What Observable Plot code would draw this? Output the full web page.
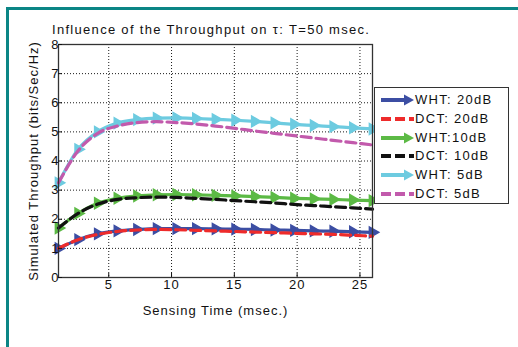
<!DOCTYPE html>
<html><head><meta charset="utf-8">
<script src="https://cdn.jsdelivr.net/npm/d3@7"></script>
<script src="https://cdn.jsdelivr.net/npm/@observablehq/plot@0.6"></script>
<style>
body{margin:0;background:#fff;font-family:"Liberation Sans",Arial,sans-serif;}
#wrap{position:relative;width:518px;height:347px;overflow:hidden;}
#bt{position:absolute;left:6px;top:7px;width:512px;height:2.5px;background:#0b8585;}
#bl{position:absolute;left:6px;top:7px;width:2.5px;height:340px;background:#0b8585;}
#title{position:absolute;left:52px;top:22px;font-size:13px;letter-spacing:1.3px;color:#111;white-space:nowrap;}
#legend{position:absolute;left:374px;top:87px;width:135px;height:117px;border:1px solid #333;background:#fff;box-sizing:border-box;}
.row{position:absolute;left:5px;height:18px;font-size:13px;letter-spacing:1.3px;color:#111;white-space:nowrap;}
.row svg{position:absolute;left:0;top:0;}
.row span{position:absolute;left:35px;top:1px;}
svg text{letter-spacing:1px;}
</style></head>
<body><div id="wrap"><div id="bt"></div><div id="bl"></div></div>
<script>
const xs = [1, 2.5625, 4.125, 5.6875, 7.25, 8.8125, 10.375, 11.9375, 13.5, 15.0625, 16.625, 18.1875, 19.75, 21.3125, 22.875, 24.4375, 26];
const wht20 = [1.0, 1.3, 1.5, 1.6, 1.65, 1.68, 1.68, 1.68, 1.67, 1.66, 1.65, 1.63, 1.62, 1.6, 1.59, 1.57, 1.55];
const dct20 = [1.0, 1.3, 1.48, 1.58, 1.63, 1.65, 1.64, 1.62, 1.6, 1.58, 1.56, 1.54, 1.52, 1.5, 1.48, 1.45, 1.42];
const wht10 = [1.7, 2.2, 2.55, 2.72, 2.8, 2.84, 2.85, 2.84, 2.82, 2.8, 2.78, 2.75, 2.72, 2.7, 2.68, 2.66, 2.64];
const dct10 = [1.7, 2.2, 2.52, 2.68, 2.74, 2.76, 2.75, 2.72, 2.68, 2.64, 2.6, 2.56, 2.51, 2.47, 2.43, 2.39, 2.35];
const wht5 = [3.25, 4.4, 5.0, 5.3, 5.42, 5.47, 5.48, 5.46, 5.43, 5.4, 5.36, 5.31, 5.26, 5.22, 5.18, 5.14, 5.1];
const dct5 = [3.25, 4.35, 4.95, 5.2, 5.32, 5.35, 5.32, 5.27, 5.2, 5.12, 5.03, 4.95, 4.87, 4.79, 4.71, 4.63, 4.55];
const xTicks = [5, 10, 15, 20, 25];
const yTicks = [0, 1, 2, 3, 4, 5, 6, 7, 8];

const series = [
  {name: "WHT: 20dB", vals: wht20, color: "#3c4ea3", dash: null},
  {name: "DCT: 20dB", vals: dct20, color: "#ee2b2b", dash: "10,5"},
  {name: "WHT:10dB", vals: wht10, color: "#5cba45", dash: null},
  {name: "DCT: 10dB", vals: dct10, color: "#111111", dash: "10,5"},
  {name: "WHT: 5dB", vals: wht5, color: "#6dcbe0", dash: null},
  {name: "DCT: 5dB", vals: dct5, color: "#c25aac", dash: "10,5"}
];

const marks = [
  Plot.gridX(xTicks, {stroke: "#000", strokeOpacity: 0.9, strokeDasharray: "1,2"}),
  Plot.gridY(yTicks, {stroke: "#000", strokeOpacity: 0.9, strokeDasharray: "1,2"}),
];
for (const s of series) {
  const data = xs.map((x, i) => ({x, y: s.vals[i]}));
  marks.push(Plot.line(data, {x: "x", y: "y", stroke: s.color, strokeWidth: 3.2, strokeDasharray: s.dash, curve: "monotone-x"}));
  if (!s.dash) marks.push(Plot.dot(data, {x: "x", y: "y", symbol: "triangle", rotate: 90, r: 4, fill: s.color, stroke: s.color}));
}
marks.push(Plot.frame({stroke: "#333", strokeWidth: 1.3}));
marks.push(Plot.axisX(xTicks, {tickSize: -4, tickPadding: 6, fontSize: 13, label: "Sensing Time (msec.)", labelAnchor: "center", labelOffset: 37, labelArrow: "none"}));
marks.push(Plot.axisY(yTicks, {tickSize: -4, tickPadding: 3, fontSize: 13, label: "Simulated Throughput (bits/Sec/Hz)", labelAnchor: "center", labelOffset: 30, labelArrow: "none"}));

const chart = Plot.plot({
  width: 518, height: 347,
  marginLeft: 58, marginRight: 146, marginTop: 44, marginBottom: 70,
  x: {domain: [1, 26]},
  y: {domain: [0, 8]},
  style: {fontFamily: "'Liberation Sans', Arial, sans-serif", fontSize: "12.5px", color: "#111", background: "transparent"},
  marks
});
chart.style.position = "absolute"; chart.style.left = "0"; chart.style.top = "0";
const wrap = document.getElementById("wrap");
wrap.appendChild(chart);

const title = document.createElement("div");
title.id = "title";
title.textContent = "Influence of the Throughput on \u03c4: T=50 msec.";
wrap.appendChild(title);

const leg = document.createElement("div");
leg.id = "legend";
series.forEach((s, i) => {
  const row = document.createElement("div");
  row.className = "row";
  row.style.top = (3 + i * 18.8) + "px";
  const svg = d3.create("svg").attr("width", 36).attr("height", 18);
  svg.append("line").attr("x1", 1).attr("x2", s.dash ? 34 : 28).attr("y1", 9).attr("y2", 9)
    .attr("stroke", s.color).attr("stroke-width", 4).attr("stroke-dasharray", s.dash ? "10,4" : null);
  if (!s.dash) svg.append("path").attr("d", "M24,3.5L34,9L24,14.5Z").attr("fill", s.color);
  row.appendChild(svg.node());
  const t = document.createElement("span");
  t.textContent = s.name;
  row.appendChild(t);
  leg.appendChild(row);
});
wrap.appendChild(leg);
</script></body></html>
